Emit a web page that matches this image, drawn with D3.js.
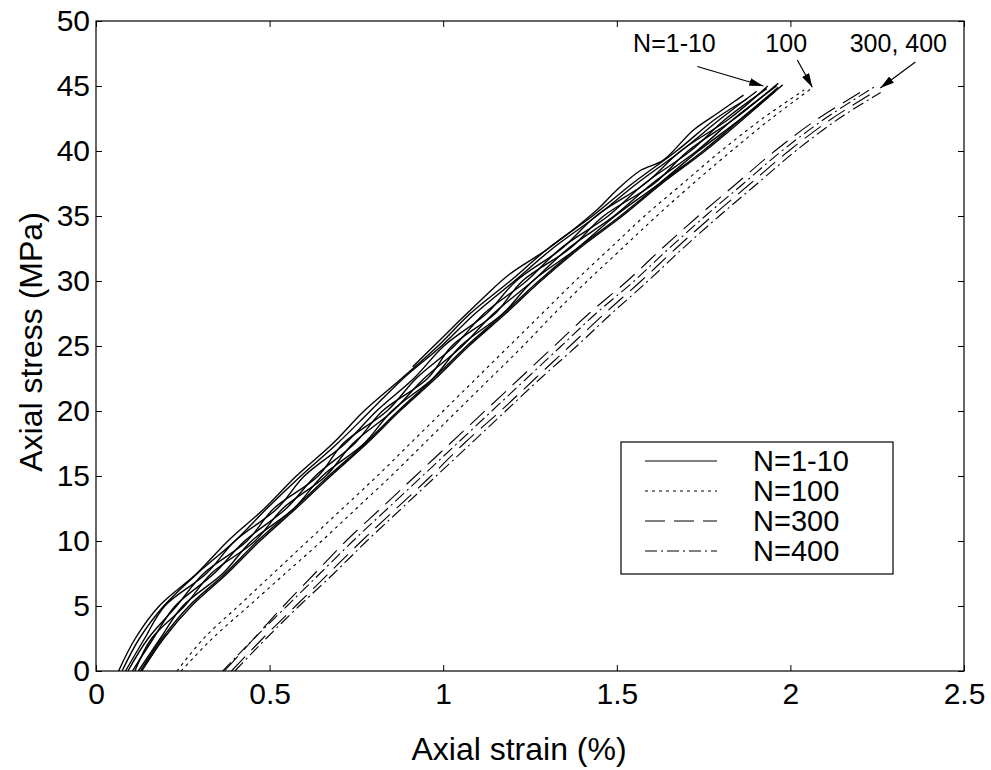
<!DOCTYPE html>
<html>
<head>
<meta charset="utf-8">
<script src="https://cdn.jsdelivr.net/npm/d3@7"></script>
<style>
  body { margin: 0; background: #fff; }
  text { font-family: "Liberation Sans", Arial, sans-serif; fill: #000; }
</style>
</head>
<body>
<div id="chart"></div>
<script>
// axis ticks
var strainTicks = [0, 0.5, 1, 1.5, 2, 2.5];
var stressTicks = [0, 5, 10, 15, 20, 25, 30, 35, 40, 45, 50];

// N=1-10 cycles, [strain %, stress MPa]
var cycles1to10 = [
  [[0.065,0],[0.113,2.5],[0.182,5],[0.290,7.5],[0.380,10],[0.485,12.5],[0.577,15],[0.682,17.5],[0.772,20],[0.880,22.5],[0.985,25],[1.078,27.5],[1.193,30],[1.302,32.5],[1.430,35],[1.545,37.5],[1.672,40],[1.786,42.5],[1.875,44.0]],
  [[0.075,0],[0.125,2.5],[0.195,5],[0.292,7.5],[0.400,10],[0.492,12.5],[0.590,15],[0.695,17.5],[0.790,20],[0.885,22.5],[0.995,25],[1.092,27.5],[1.205,30],[1.315,32.5],[1.442,35],[1.558,37.5],[1.685,40],[1.800,42.5],[1.903,44.6]],
  [[0.085,0],[0.140,2.5],[0.198,5],[0.318,7.5],[0.400,10],[0.522,12.5],[0.600,15],[0.718,17.5],[0.808,20],[0.915,22.5],[1.002,25],[1.125,27.5],[1.210,30],[1.342,32.5],[1.440,35],[1.582,37.5],[1.684,40],[1.825,42.5],[1.935,45.0]],
  [[0.092,0],[0.150,2.5],[0.232,5],[0.310,7.5],[0.435,10],[0.512,12.5],[0.640,15],[0.712,17.5],[0.838,20],[0.922,22.5],[1.032,25],[1.118,27.5],[1.240,30],[1.338,32.5],[1.475,35],[1.580,37.5],[1.712,40],[1.815,42.5],[1.932,44.8]],
  [[0.105,0],[0.165,2.5],[0.228,5],[0.340,7.5],[0.428,10],[0.548,12.5],[0.632,15],[0.745,17.5],[0.825,20],[0.955,22.5],[1.025,25],[1.150,27.5],[1.228,30],[1.365,32.5],[1.462,35],[1.608,37.5],[1.705,40],[1.840,42.5],[1.965,45.2]],
  [[0.112,0],[0.160,2.5],[0.255,5],[0.332,7.5],[0.458,10],[0.538,12.5],[0.662,15],[0.740,17.5],[0.855,20],[0.945,22.5],[1.055,25],[1.145,27.5],[1.258,30],[1.360,32.5],[1.492,35],[1.602,37.5],[1.730,40],[1.838,42.5],[1.960,45.0]],
  [[0.122,0],[0.185,2.5],[0.250,5],[0.365,7.5],[0.448,10],[0.570,12.5],[0.652,15],[0.772,17.5],[0.852,20],[0.970,22.5],[1.050,25],[1.172,27.5],[1.258,30],[1.385,32.5],[1.495,35],[1.622,37.5],[1.735,40],[1.858,42.5],[1.965,44.9]],
  [[0.128,0],[0.190,2.5],[0.268,5],[0.372,7.5],[0.465,10],[0.570,12.5],[0.670,15],[0.775,17.5],[0.870,20],[0.972,22.5],[1.068,25],[1.174,27.5],[1.275,30],[1.386,32.5],[1.510,35],[1.625,37.5],[1.748,40],[1.860,42.5],[1.956,44.6]],
  [[0.132,0],[0.195,2.5],[0.275,5],[0.378,7.5],[0.472,10],[0.576,12.5],[0.676,15],[0.780,17.5],[0.875,20],[0.978,22.5],[1.074,25],[1.180,27.5],[1.281,30],[1.392,32.5],[1.516,35],[1.630,37.5],[1.754,40],[1.866,42.5],[1.978,45.1]],
  [[0.912,23.4],[0.973,25],[1.030,26.5],[1.115,28.7],[1.190,30.5],[1.308,32.6],[1.444,35.5],[1.500,37.0],[1.568,38.5],[1.634,39.3],[1.720,41.6],[1.790,42.9],[1.865,44.3]]
];

// N=100
var cycles100 = [
  [[0.233,0],[0.310,2.5],[0.410,5],[0.510,7.5],[0.610,10],[0.710,12.5],[0.810,15],[0.905,17.5],[1.000,20],[1.095,22.5],[1.190,25],[1.285,27.5],[1.380,30],[1.480,32.5],[1.580,35],[1.690,37.5],[1.800,40],[1.920,42.5],[2.040,44.7]],
  [[0.245,0],[0.335,2.5],[0.440,5],[0.545,7.5],[0.650,10],[0.750,12.5],[0.850,15],[0.945,17.5],[1.040,20],[1.135,22.5],[1.230,25],[1.320,27.5],[1.415,30],[1.515,32.5],[1.615,35],[1.720,37.5],[1.830,40],[1.945,42.5],[2.065,44.9]]
];

// N=300
var cycles300 = [
  [[0.370,0],[0.455,2.5],[0.540,5],[0.630,7.5],[0.720,10],[0.820,12.5],[0.920,15],[1.020,17.5],[1.120,20],[1.220,22.5],[1.320,25],[1.420,27.5],[1.530,30],[1.630,32.5],[1.735,35],[1.845,37.5],[1.955,40],[2.080,42.5],[2.220,44.8]],
  [[0.390,0],[0.480,2.5],[0.575,5],[0.670,7.5],[0.765,10],[0.865,12.5],[0.965,15],[1.060,17.5],[1.165,20],[1.265,22.5],[1.365,25],[1.465,27.5],[1.570,30],[1.670,32.5],[1.775,35],[1.885,37.5],[1.995,40],[2.120,42.5],[2.245,44.6]]
];

// N=400
var cycles400 = [
  [[0.365,0],[0.455,2.5],[0.550,5],[0.645,7.5],[0.740,10],[0.840,12.5],[0.940,15],[1.040,17.5],[1.140,20],[1.240,22.5],[1.340,25],[1.440,27.5],[1.550,30],[1.650,32.5],[1.755,35],[1.865,37.5],[1.975,40],[2.100,42.5],[2.240,44.9]],
  [[0.400,0],[0.490,2.5],[0.585,5],[0.685,7.5],[0.780,10],[0.880,12.5],[0.980,15],[1.080,17.5],[1.180,20],[1.280,22.5],[1.385,25],[1.485,27.5],[1.590,30],[1.690,32.5],[1.795,35],[1.905,37.5],[2.015,40],[2.140,42.5],[2.260,44.5]]
];

var legendLabels = ["N=1-10", "N=100", "N=300", "N=400"];
var dashes = [null, "3,4", "20,9", "12,4,2,4"];

// arrow labels: text, label position, arrow start, arrow tip (data units)
var noteText = ["N=1-10", "100", "300, 400"];
var noteAt = [[1.666, 47.6], [1.988, 47.6], [2.311, 47.6]];
var arrowFrom = [[1.732, 46.5], [2.020, 47.0], [2.360, 46.85]];
var arrowTo = [[1.922, 45.0], [2.063, 44.9], [2.259, 44.85]];

var margin = {top: 21, bottom: 99, left: 96, right: 27};
var width = 991 - margin.left - margin.right;
var height = 770 - margin.top - margin.bottom;

var svg = d3.select("#chart")
            .append("svg")
            .attr("width", 991)
            .attr("height", 770);

var g = svg.append("g")
           .attr("transform", "translate(" + margin.left + "," + margin.top + ")");

var xScale = d3.scaleLinear().domain([0, 2.5]).range([0, width]);
var yScale = d3.scaleLinear().domain([0, 50]).range([height, 0]);

// arrow head
svg.append("defs").append("marker")
   .attr("id", "head")
   .attr("viewBox", "0 0 14 8")
   .attr("refX", 14).attr("refY", 4)
   .attr("markerWidth", 14).attr("markerHeight", 8)
   .attr("markerUnits", "userSpaceOnUse")
   .attr("orient", "auto")
   .append("path")
   .attr("d", "M0,0 L14,4 L0,8 Z")
   .attr("fill", "#000");

var line = d3.line()
             .x(function(d) { return xScale(d[0]); })
             .y(function(d) { return yScale(d[1]); })
             .curve(d3.curveCatmullRom);

var groups = [cycles1to10, cycles100, cycles300, cycles400];
groups.forEach(function(curves, i) {
  g.selectAll(".grp" + i)
   .data(curves)
   .enter().append("path")
   .attr("class", "grp" + i)
   .attr("d", line)
   .attr("fill", "none")
   .attr("stroke", "#000")
   .attr("stroke-width", i == 0 ? 1.4 : 1.1)
   .attr("stroke-dasharray", dashes[i]);
});

// axes, ticks pointing inward on all four sides
var fs = "30px";
var xAxis = d3.axisBottom(xScale).tickValues(strainTicks).tickSize(-6).tickPadding(12)
              .tickFormat(function(d) { return d; });
var yAxis = d3.axisLeft(yScale).tickValues(stressTicks).tickSize(-6).tickPadding(6)
              .tickFormat(function(d) { return d; });

g.append("g").attr("transform", "translate(0," + height + ")").call(xAxis)
 .call(function(a) { a.select(".domain").remove(); a.selectAll("text").style("font-size", fs); });
g.append("g").call(yAxis)
 .call(function(a) { a.select(".domain").remove(); a.selectAll("text").style("font-size", fs); });
g.append("g").call(d3.axisTop(xScale).tickValues(strainTicks).tickSize(-6).tickFormat(""))
 .select(".domain").remove();
g.append("g").attr("transform", "translate(" + width + ",0)")
 .call(d3.axisRight(yScale).tickValues(stressTicks).tickSize(-6).tickFormat(""))
 .select(".domain").remove();
g.selectAll(".tick line").attr("stroke", "#000");

g.append("rect")
 .attr("width", width).attr("height", height)
 .attr("fill", "none").attr("stroke", "#000").attr("stroke-width", 1.2);

// axis labels
svg.append("text")
   .text("Axial strain (%)")
   .attr("x", 519)
   .attr("y", 760)
   .attr("text-anchor", "middle")
   .style("font-size", "32px");

svg.append("text")
   .text("Axial stress (MPa)")
   .attr("transform", "translate(42,342) rotate(270)")
   .attr("text-anchor", "middle")
   .style("font-size", "32px");

// arrows and labels
noteText.forEach(function(t, i) {
  g.append("text")
   .text(t)
   .attr("x", xScale(noteAt[i][0]))
   .attr("y", yScale(noteAt[i][1]))
   .attr("text-anchor", "middle")
   .style("font-size", "25px");
  g.append("line")
   .attr("x1", xScale(arrowFrom[i][0])).attr("y1", yScale(arrowFrom[i][1]))
   .attr("x2", xScale(arrowTo[i][0])).attr("y2", yScale(arrowTo[i][1]))
   .attr("stroke", "#000").attr("stroke-width", 1.2)
   .attr("marker-end", "url(#head)");
});

// legend
var lg = svg.append("g").attr("transform", "translate(621,442)");
lg.append("rect")
  .attr("width", 272).attr("height", 132)
  .attr("fill", "#fff").attr("stroke", "#000").attr("stroke-width", 1.2);

var rows = lg.selectAll(".row")
             .data(legendLabels)
             .enter().append("g")
             .attr("transform", function(d, i) { return "translate(0," + (19 + 30 * i) + ")"; });
rows.append("line")
    .attr("x1", 24).attr("x2", 96)
    .attr("stroke", "#000").attr("stroke-width", 1.1)
    .attr("stroke-dasharray", function(d, i) { return dashes[i]; });
rows.append("text")
    .text(function(d) { return d; })
    .attr("x", 132).attr("y", 10)
    .style("font-size", "29px");
</script>
</body>
</html>
